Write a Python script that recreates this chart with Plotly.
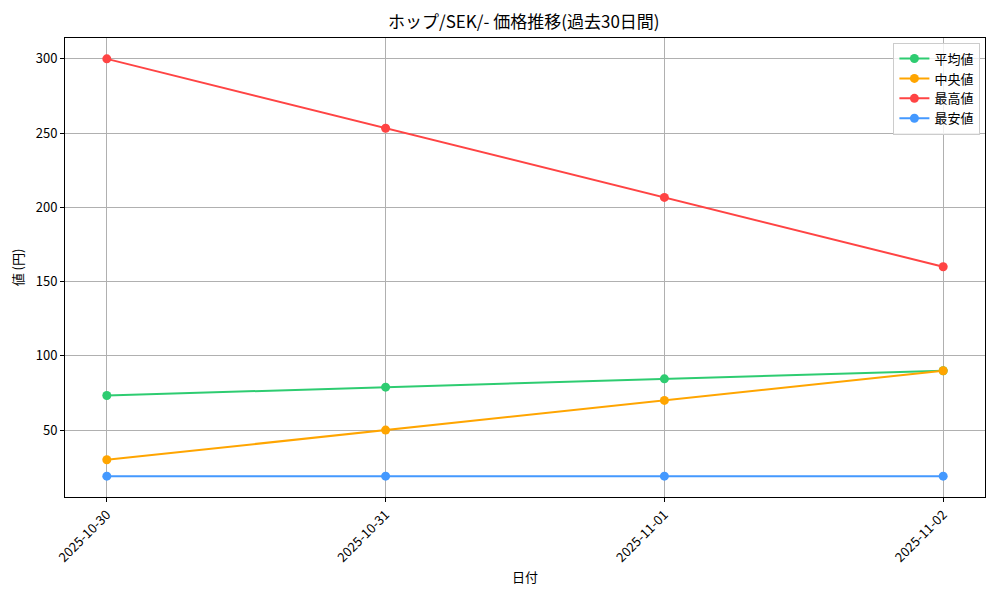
import plotly.graph_objects as go

dates = ["2025-10-30", "2025-10-31", "2025-11-01", "2025-11-02"]
avg_vals = [73.3, 78.9, 84.5, 90.0]
median_vals = [30.0, 50.0, 70.0, 90.0]
max_vals = [300.0, 253.3, 206.7, 160.0]
min_vals = [19.0, 19.0, 19.0, 19.0]

series = [
    ("平均値", avg_vals, "#2ecc71"),
    ("中央値", median_vals, "#ffa500"),
    ("最高値", max_vals, "#ff4444"),
    ("最安値", min_vals, "#4499ff"),
]

FONT = "Noto Sans CJK JP"

fig = go.Figure()
for name, vals, color in series:
    fig.add_trace(go.Scatter(
        x=dates, y=vals, name=name, mode="lines+markers",
        line=dict(color=color, width=2),
        marker=dict(color=color, size=9),
    ))

# page body has an 8px margin; figure is sized to fill the rest of the 1000x600 window
fig.update_layout(
    width=992, height=592,
    paper_bgcolor="white", plot_bgcolor="white",
    font=dict(family=FONT, size=12, color="black"),
    margin=dict(l=57, r=15, t=30, b=103),
    title=dict(text="ホップ/SEK/- 価格推移(過去30日間)", x=0.52, xanchor="center",
               y=0.976, yanchor="middle", font=dict(size=17, family=FONT)),
    legend=dict(x=0.995, y=0.99, xanchor="right", yanchor="top",
                bgcolor="rgba(255,255,255,0.8)", bordercolor="#cccccc", borderwidth=1,
                font=dict(size=13, family=FONT), tracegroupgap=2),
    showlegend=True,
)

fig.update_xaxes(
    type="category", range=[-0.15, 3.15], automargin=False,
    title=dict(text="日付", font=dict(size=13), standoff=8),
    tickangle=-45, tickfont=dict(size=13),
    showgrid=True, gridcolor="#b0b0b0", gridwidth=1,
    showline=True, linecolor="black", linewidth=1, mirror=True,
    ticks="outside", ticklen=4, tickcolor="black",
    zeroline=False,
)
fig.update_yaxes(
    range=[4.95, 314.05], automargin=False,
    tickvals=[50, 100, 150, 200, 250, 300],
    title=dict(text="値 (円)", font=dict(size=13), standoff=12),
    tickfont=dict(size=13),
    showgrid=True, gridcolor="#b0b0b0", gridwidth=1,
    showline=True, linecolor="black", linewidth=1, mirror=True,
    ticks="outside", ticklen=4, tickcolor="black",
    zeroline=False,
)

fig.write_html("out.html")
